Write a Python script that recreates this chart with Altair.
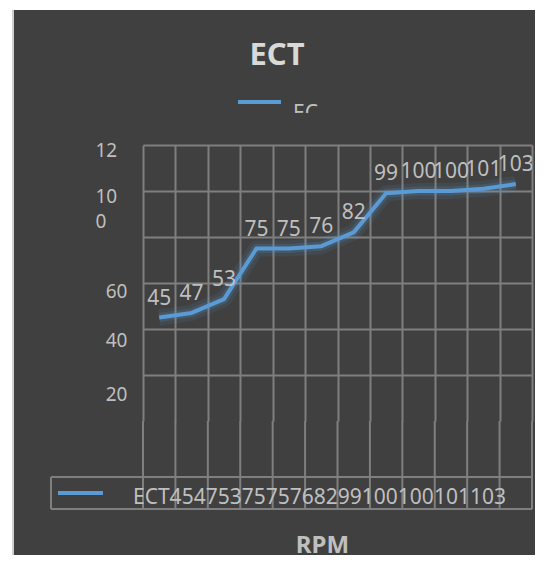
import altair as alt
import pandas as pd
import numpy as np

# ---- data ----
ect_values = [45, 47, 53, 75, 75, 76, 82, 99, 100, 100, 101, 103]
series_name = "ECT"
chart_title = "ECT"
x_title = "RPM"
legend_clipped = "EC"
y_grid_values = [20, 40, 60, 80, 100, 120]

n = len(ect_values)
df = pd.DataFrame({
    "pos": np.arange(n) + 0.5,
    "ECT": ect_values,
    "label": [str(v) for v in ect_values],
})
bounds = pd.DataFrame({"b": np.arange(n + 1)})
one = pd.DataFrame({"k": [0]})

BG = "#404040"
GRID = "#7f7f7f"
TXT = "#bfbfbf"
BLUE = "#5b9bd5"
FONT = "Noto Sans"
W, H = 389, 276

xscale = alt.Scale(domain=[0, n], nice=False, zero=False)
xaxis = alt.Axis(values=list(range(n + 1)), grid=True, gridColor=GRID, gridWidth=2,
                 labels=False, ticks=False, domain=False, title=None)
yscale = alt.Scale(domain=[0, 120], nice=False)
yaxis = alt.Axis(
    values=y_grid_values, grid=True, gridColor=GRID, gridWidth=2,
    ticks=False, domain=False, title=None,
    labelFont=FONT, labelFontSize=19, labelColor=TXT,
    labelOverlap=False, labelFlush=False, labelLineHeight=25,
    labelExpr="datum.value == 120 ? '12' : datum.value == 100 ? ['10', '0'] : datum.value == 80 ? '' : datum.label",
    labelAlign={"condition": {"test": "datum.value >= 100", "value": "left"}, "value": "right"},
    labelPadding={"condition": {"test": "datum.value >= 100", "value": 48}, "value": 16},
    labelOffset={"condition": [
        {"test": "datum.value == 120", "value": 5},
        {"test": "datum.value == 100", "value": 5},
        {"test": "datum.value == 60", "value": 8},
        {"test": "datum.value == 40", "value": 11},
    ], "value": 19},
)

X = alt.X("pos:Q", scale=xscale, axis=xaxis)
Y = alt.Y("ECT:Q", scale=yscale, axis=yaxis)

base = alt.Chart(df)

glow1 = base.mark_line(color=BLUE, strokeWidth=16, opacity=0.10, strokeJoin="round").encode(x=X, y=Y)
glow2 = base.mark_line(color=BLUE, strokeWidth=9, opacity=0.18, strokeJoin="round").encode(x=X, y=Y)
line = base.mark_line(color=BLUE, strokeWidth=4, strokeJoin="round").encode(x=X, y=Y)
labels = base.mark_text(font=FONT, fontSize=21, color=TXT, baseline="alphabetic",
                        dy=-13, clip=True).encode(x=X, y=Y, text="label:N")

def rect(x, x2, y, y2, color):
    return alt.Chart(one).mark_rect(color=color).encode(
        x=alt.value(x), x2=alt.value(x2), y=alt.value(y), y2=alt.value(y2))

def hrule(x, x2, y, color=GRID, w=2):
    return alt.Chart(one).mark_rule(color=color, strokeWidth=w).encode(
        x=alt.value(x), x2=alt.value(x2), y=alt.value(y))

def vrule(x, y, y2, color=GRID, w=2):
    return alt.Chart(one).mark_rule(color=color, strokeWidth=w).encode(
        x=alt.value(x), y=alt.value(y), y2=alt.value(y2))

def txt(s, x, y, size, align="left", weight="normal", color=TXT):
    return alt.Chart(one).mark_text(font=FONT, fontSize=size, align=align, baseline="alphabetic",
                                    fontWeight=weight, color=color).encode(
        x=alt.value(x), y=alt.value(y), text=alt.value(s))

# frame strips (canvas spans page x 8..535, y 8..555)
white_left = rect(-135, -131, -137, 410, "white")
white_top = rect(-135, 392, -137, -135, "white")
light_left = rect(-131, -129, -135, 410, "#cfcfcf")

# data-table area
table_rules = alt.Chart(bounds).mark_rule(color=GRID, strokeWidth=2).encode(
    x=alt.X("b:Q", scale=xscale, axis=xaxis), y=alt.value(276), y2=alt.value(364))
box_top = hrule(-92, 389, 332)
box_bottom = hrule(-92, 389, 364)
box_left = vrule(-92, 332, 364)
key_line = hrule(-85, -40, 348, color=BLUE, w=4)
table_text = txt(series_name + "".join(str(v) for v in ect_values), -10, 359, 21)

# title, top legend, x title
title = txt(chart_title, 134, -80, 31, align="center", weight="bold", color="#d9d9d9")
leg_line = hrule(95, 138, -43, color=BLUE, w=4)
leg_text = txt(legend_clipped, 150, -25, 21)
leg_cover = rect(140, 200, -32, -12, BG)
xtitle = txt(x_title, 179.5, 408, 24, align="center", weight="bold")

chart = alt.layer(
    glow1, glow2, line, labels,
    table_rules, box_top, box_bottom, box_left, key_line, table_text,
    title, leg_line, leg_text, leg_cover, xtitle,
    white_left, white_top, light_left,
).properties(
    width=W, height=H,
    padding={"left": 135, "top": 137, "right": 3, "bottom": 134},
    autosize=alt.AutoSizeParams(type="none"),
    background=BG,
).configure_view(stroke=None)

chart.save("out.html", embed_options={"renderer": "svg", "actions": False})
